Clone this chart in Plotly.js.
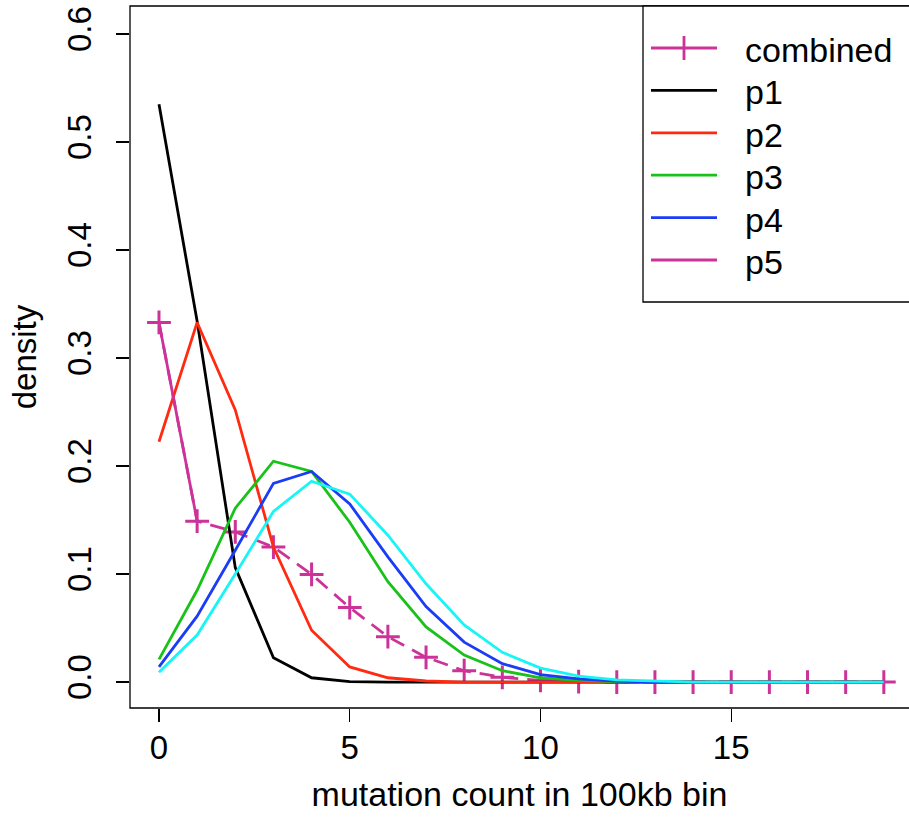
<!DOCTYPE html>
<html>
<head>
<meta charset="utf-8">
<script src="https://cdn.plot.ly/plotly-3.0.1.min.js"></script>
<style>html,body{margin:0;padding:0;background:#fff;}</style>
</head>
<body>
<div id="chart" style="width:909px;height:824px;"></div>
<script>
// x: mutation count in 100kb bin
var counts = [0,1,2,3,4,5,6,7,8,9,10,11,12,13,14,15,16,17,18,19];
var combined = [0.333,0.149,0.139,0.125,0.0997,0.069,0.042,0.0229,0.0105,0.0044,0.0015,0.0005,0,0,0,0,0,0,0,0];
var p1 = [0.535,0.334,0.106,0.0225,0.004,0.0005,0,0,0,0,0,0,0,0,0,0,0,0,0,0];
var p2 = [0.2225,0.333,0.252,0.125,0.048,0.014,0.004,0.001,0,0,0,0,0,0,0,0,0,0,0,0];
var p3 = [0.021,0.085,0.161,0.2045,0.195,0.148,0.093,0.051,0.025,0.0105,0.004,0.0015,0.0005,0,0,0,0,0,0,0];
var p4 = [0.014,0.061,0.122,0.184,0.195,0.165,0.116,0.070,0.037,0.017,0.007,0.003,0.001,0,0,0,0,0,0,0];
var p5 = [0.009,0.0435,0.100,0.158,0.186,0.174,0.136,0.091,0.053,0.0275,0.013,0.0055,0.002,0.0008,0,0,0,0,0,0];
var firstSegX = [0,1];
var firstSegY = [0.333,0.149];
var legendNames = ['combined','p1','p2','p3','p4','p5'];
var xTicks = [0,5,10,15];
var yTicks = [0,0.1,0.2,0.3,0.4,0.5,0.6];

var cMag = '#cc3399', cBlack = '#000000', cRed = '#ff2a10', cGreen = '#19c219', cBlue = '#1a3cf5', cCyan = '#19f5f5';
var legendColors = [cMag, cBlack, cRed, cGreen, cBlue, cMag];
var LW = 2.8;

var traces = [
  {x: counts, y: combined, name: legendNames[0], mode: 'lines+markers',
   line: {color: cMag, width: LW, dash: '15px,9px'},
   marker: {symbol: 'cross-thin-open', size: 17, line: {color: cMag, width: 3}, color: cMag}},
  {x: counts, y: p1, name: legendNames[1], mode: 'lines', line: {color: cBlack, width: LW}},
  {x: counts, y: p2, name: legendNames[2], mode: 'lines', line: {color: cRed, width: LW}},
  {x: counts, y: p3, name: legendNames[3], mode: 'lines', line: {color: cGreen, width: LW}},
  {x: counts, y: p4, name: legendNames[4], mode: 'lines', line: {color: cBlue, width: LW}},
  {x: counts, y: p5, name: 'cyan', mode: 'lines', line: {color: cCyan, width: LW}},
  {x: firstSegX, y: firstSegY, name: legendNames[5], mode: 'lines', line: {color: cMag, width: LW}}
];

var font = {family: 'Liberation Sans, Arial, sans-serif', size: 33, color: '#000'};

// Plot area in pixels: left 130, right 909, top 6, bottom 708
var PL = 130, PW = 779, PT = 6, PH = 702;
function px2x(px) { return (px - PL) / PW; }
function py2y(py) { return (PT + PH - py) / PH; }

var shapes = [{type: 'rect', xref: 'paper', yref: 'paper', x0: 0, x1: 1.01, y0: 0, y1: 1,
               line: {color: '#000', width: 1.3}, layer: 'above'},
              // legend box
              {type: 'rect', xref: 'paper', yref: 'paper', x0: px2x(643), x1: 1.01, y0: py2y(302), y1: 1,
               line: {color: '#000', width: 1.3}, fillcolor: '#fff', layer: 'above'}];
var annotations = [];
legendNames.forEach(function(nm, i) {
  var yy = 48 + 42.4 * i;
  shapes.push({type: 'line', xref: 'paper', yref: 'paper', x0: px2x(651), x1: px2x(717),
               y0: py2y(yy), y1: py2y(yy), line: {color: legendColors[i], width: LW}, layer: 'above'});
  if (i === 0) {
    shapes.push({type: 'line', xref: 'paper', yref: 'paper', x0: px2x(684), x1: px2x(684),
                 y0: py2y(yy - 12), y1: py2y(yy + 12), line: {color: legendColors[i], width: LW}, layer: 'above'});
  }
  annotations.push({xref: 'paper', yref: 'paper', x: px2x(743), y: py2y(yy + 2), xanchor: 'left', yanchor: 'middle',
                    text: nm, showarrow: false, font: {family: font.family, size: 34, color: '#000'}});
});

var layout = {
  width: 909, height: 824,
  margin: {l: PL, r: 0, t: PT, b: 824 - PT - PH},
  paper_bgcolor: '#fff', plot_bgcolor: '#fff',
  font: font,
  showlegend: false,
  xaxis: {range: [-0.76, 19.66], tickvals: xTicks, ticktext: xTicks.map(String),
          ticks: 'outside', ticklen: 13, tickwidth: 1.3, tickcolor: '#000',
          showgrid: false, zeroline: false, showline: false,
          tickfont: font, ticklabelstandoff: -3,
          title: {text: 'mutation count in 100kb bin', font: {family: font.family, size: 34, color: '#000'}, standoff: 17}},
  yaxis: {range: [-0.024, 0.626], tickvals: yTicks, ticktext: yTicks.map(function(v){return v.toFixed(1);}),
          ticks: 'outside', ticklen: 13, tickwidth: 1.3, tickcolor: '#000', tickangle: -90,
          showgrid: false, zeroline: false, showline: false,
          tickfont: font, ticklabelstandoff: 12,
          title: {text: 'density', font: font, standoff: 14}},
  shapes: shapes,
  annotations: annotations
};

Plotly.newPlot('chart', traces, layout, {displayModeBar: false, staticPlot: true});
</script>
</body>
</html>
